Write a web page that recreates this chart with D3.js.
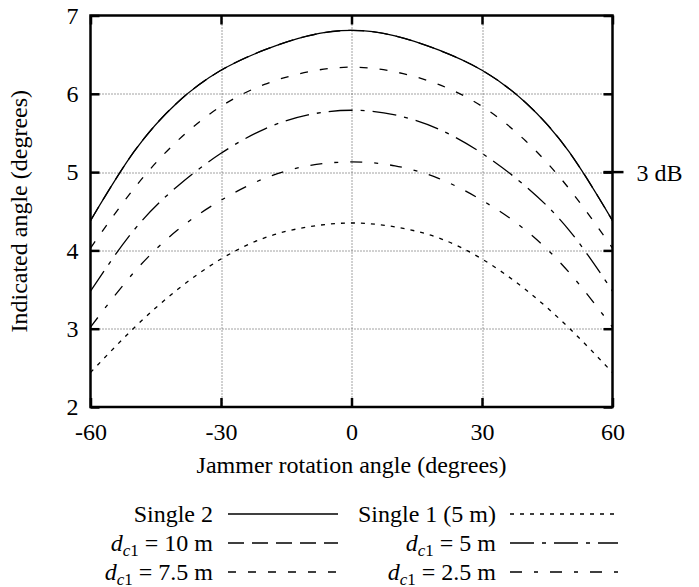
<!DOCTYPE html>
<html>
<head>
<meta charset="utf-8">
<script src="https://cdn.jsdelivr.net/npm/d3@7"></script>
<style>
body { margin: 0; background: #fff; }
svg text { font-family: "Liberation Serif", "Times New Roman", Times, serif; fill: #000; }
</style>
</head>
<body>
<div id="wrapper"></div>
<script>
// jammer rotation angle (degrees)
const angles = [-60, -50, -40, -30, -20, -10, 0, 10, 20, 30, 40, 50, 60];

// indicated angle (degrees)
const single2 = [4.38, 5.26, 5.89, 6.30, 6.56, 6.74, 6.81, 6.74, 6.56, 6.30, 5.89, 5.26, 4.38];
const dc10    = [4.38, 5.26, 5.89, 6.30, 6.56, 6.74, 6.81, 6.74, 6.56, 6.30, 5.89, 5.26, 4.38];
const dc75    = [4.03, 4.79, 5.40, 5.84, 6.12, 6.28, 6.34, 6.28, 6.12, 5.84, 5.40, 4.79, 4.03];
const dc5     = [3.48, 4.26, 4.82, 5.24, 5.55, 5.73, 5.79, 5.73, 5.55, 5.24, 4.82, 4.26, 3.48];
const dc25    = [3.02, 3.72, 4.26, 4.64, 4.92, 5.08, 5.13, 5.08, 4.92, 4.64, 4.26, 3.72, 3.02];
const single1 = [2.44, 3.01, 3.50, 3.89, 4.16, 4.30, 4.35, 4.30, 4.16, 3.89, 3.50, 3.01, 2.44];

const xTicks = [-60, -30, 0, 30, 60];
const yTicks = [2, 3, 4, 5, 6, 7];
const markerValue = 5;
const markerLabel = "3 dB";

// legend entries: left column then right column
const series = [
  { key: "single2", values: single2, name: "Single 2", sub: false },
  { key: "dc10", values: dc10, name: "10 m", sub: true },
  { key: "dc75", values: dc75, name: "7.5 m", sub: true },
  { key: "single1", values: single1, name: "Single 1 (5 m)", sub: false },
  { key: "dc5", values: dc5, name: "5 m", sub: true },
  { key: "dc25", values: dc25, name: "2.5 m", sub: true },
];

const dashes = {
  single2: null,
  dc10: "16,8",
  dc75: "8,12",
  single1: "4,6",
  dc5: "24,8,4,8",
  dc25: "12,12,4,12",
};

const fontFamily = "'Liberation Serif', 'Times New Roman', Times, serif";
const fontSize = 24;

let dimensions = {
  width: 699,
  height: 587,
  margin: { top: 15.5, right: 86.5, bottom: 180, left: 90.5 },
};
dimensions.boundedWidth = dimensions.width - dimensions.margin.left - dimensions.margin.right;
dimensions.boundedHeight = dimensions.height - dimensions.margin.top - dimensions.margin.bottom;

const svg = d3.select("#wrapper").append("svg")
  .attr("width", dimensions.width)
  .attr("height", dimensions.height)
  .attr("font-family", fontFamily);

svg.append("rect").attr("width", dimensions.width).attr("height", dimensions.height).attr("fill", "#fff");

const bounds = svg.append("g")
  .attr("transform", `translate(${dimensions.margin.left},${dimensions.margin.top})`);

const xScale = d3.scaleLinear().domain([-60, 60]).range([0, dimensions.boundedWidth]);
const yScale = d3.scaleLinear().domain([2, 7]).range([dimensions.boundedHeight, 0]);

// grid
const grid = bounds.append("g").attr("class", "grid")
  .attr("stroke", "#444").attr("stroke-width", 1).attr("stroke-dasharray", "1,2");
grid.selectAll(".vg").data(xTicks.slice(1, -1)).join("line")
  .attr("x1", d => Math.round(xScale(d)) + 0.5).attr("x2", d => Math.round(xScale(d)) + 0.5)
  .attr("y1", 0).attr("y2", dimensions.boundedHeight);
grid.selectAll(".hg").data(yTicks.slice(1, -1)).join("line")
  .attr("y1", d => Math.round(yScale(d)) + 0.5).attr("y2", d => Math.round(yScale(d)) + 0.5)
  .attr("x1", 0).attr("x2", dimensions.boundedWidth);

// curves
svg.append("clipPath").attr("id", "plotclip")
  .append("rect").attr("width", dimensions.boundedWidth).attr("height", dimensions.boundedHeight);

const lineGenerator = d3.line()
  .x((d, i) => xScale(angles[i]))
  .y(d => yScale(d))
  .curve(d3.curveNatural);

bounds.append("g").attr("clip-path", "url(#plotclip)")
  .selectAll("path").data(series).join("path")
  .attr("d", d => lineGenerator(d.values))
  .attr("fill", "none")
  .attr("stroke", "#000")
  .attr("stroke-width", 1.3)
  .attr("stroke-dasharray", d => dashes[d.key]);

// axes
const tickLen = 9;
const plain = d => String(d);
const styleAxis = g => {
  g.attr("font-family", fontFamily).attr("font-size", fontSize);
  g.select(".domain").remove();
  g.selectAll(".tick line").attr("stroke", "#000").attr("stroke-width", 2.5);
  g.selectAll("text").attr("fill", "#000");
};

bounds.append("g")
  .attr("transform", `translate(0,${dimensions.boundedHeight})`)
  .call(d3.axisBottom(xScale).tickValues(xTicks).tickFormat(plain).tickSizeInner(-tickLen).tickSizeOuter(0).tickPadding(16))
  .call(styleAxis);
bounds.append("g")
  .call(d3.axisTop(xScale).tickValues(xTicks).tickSizeInner(-tickLen).tickSizeOuter(0).tickFormat(""))
  .call(styleAxis);
bounds.append("g")
  .call(d3.axisLeft(yScale).tickValues(yTicks).tickFormat(plain).tickSizeInner(-tickLen).tickSizeOuter(0).tickPadding(12))
  .call(styleAxis);
bounds.append("g")
  .attr("transform", `translate(${dimensions.boundedWidth},0)`)
  .call(d3.axisRight(yScale).tickValues(yTicks).tickSizeInner(-tickLen).tickSizeOuter(0).tickFormat(""))
  .call(styleAxis);

// frame
bounds.append("rect")
  .attr("width", dimensions.boundedWidth).attr("height", dimensions.boundedHeight)
  .attr("fill", "none").attr("stroke", "#000").attr("stroke-width", 2.5);

// 3 dB marker
bounds.append("line")
  .attr("x1", dimensions.boundedWidth - tickLen).attr("x2", dimensions.boundedWidth + 11)
  .attr("y1", yScale(markerValue)).attr("y2", yScale(markerValue))
  .attr("stroke", "#000").attr("stroke-width", 2.5);
bounds.append("text")
  .attr("x", dimensions.boundedWidth + 24).attr("y", yScale(markerValue)).attr("dy", "0.35em")
  .attr("font-size", fontSize).text(markerLabel);

// axis titles
svg.append("text")
  .attr("x", dimensions.margin.left + dimensions.boundedWidth / 2).attr("y", 473)
  .attr("text-anchor", "middle").attr("font-size", fontSize)
  .text("Jammer rotation angle (degrees)");
svg.append("text")
  .attr("transform", `translate(27,${dimensions.margin.top + dimensions.boundedHeight / 2}) rotate(-90)`)
  .attr("text-anchor", "middle").attr("font-size", fontSize)
  .text("Indicated angle (degrees)");

// legend
const legendCols = [{ textX: 213, x1: 228, x2: 338 }, { textX: 496, x1: 510, x2: 618 }];
const legendTop = 514, legendStep = 29;
const legend = svg.append("g").attr("class", "legend");
series.forEach((s, i) => {
  const col = legendCols[Math.floor(i / 3)];
  const y = legendTop + (i % 3) * legendStep;
  const t = legend.append("text")
    .attr("x", col.textX).attr("y", y + 7.5)
    .attr("text-anchor", "end").attr("font-size", fontSize);
  if (s.sub) {
    t.append("tspan").attr("font-style", "italic").text("d");
    const sub = t.append("tspan").attr("font-size", 17).attr("dy", 5);
    sub.append("tspan").attr("font-style", "italic").text("c");
    sub.append("tspan").text("1");
    t.append("tspan").attr("dy", -5).text(" = " + s.name);
  } else {
    t.text(s.name);
  }
  legend.append("line")
    .attr("x1", col.x1).attr("x2", col.x2).attr("y1", y).attr("y2", y)
    .attr("stroke", "#000").attr("stroke-width", 1.3)
    .attr("stroke-dasharray", dashes[s.key]);
});
</script>
</body>
</html>
